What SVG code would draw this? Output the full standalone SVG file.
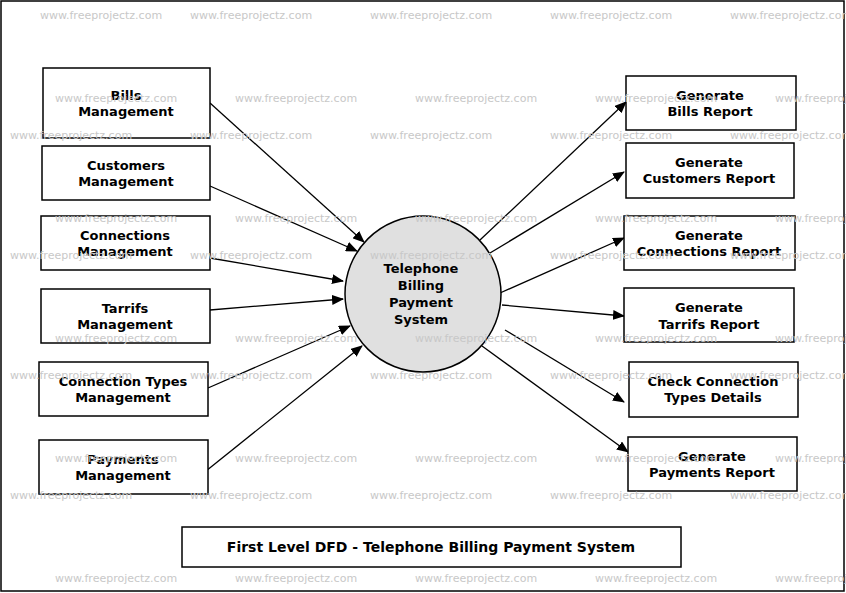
<svg xmlns="http://www.w3.org/2000/svg" width="846" height="593" viewBox="0 0 846 593">
<style>
.b{fill:#fff;stroke:#000;stroke-width:1.5}
.t{font-family:"DejaVu Sans",sans-serif;font-weight:bold;font-size:13px;text-anchor:middle}
.w{font-family:"DejaVu Sans",sans-serif;font-size:11px;fill:#c8c8c8}
.c line{stroke:#000;stroke-width:1.3;marker-end:url(#a)}
</style>
<defs><marker id="a" markerWidth="12" markerHeight="10" refX="11" refY="5" orient="auto" markerUnits="userSpaceOnUse"><path d="M0,0L12,5L0,10z"/></marker></defs>
<rect x="1" y="1" width="843" height="590" fill="#fff" stroke="#000" stroke-width="1.5"/>
<g class="c">
<line x1="210" y1="103" x2="364" y2="242"/>
<line x1="210" y1="186" x2="357" y2="251"/>
<line x1="210" y1="258" x2="343" y2="281"/>
<line x1="210" y1="310" x2="343" y2="299"/>
<line x1="208" y1="388" x2="350" y2="326"/>
<line x1="206" y1="471" x2="362" y2="346"/>
<line x1="480" y1="240" x2="626" y2="102"/>
<line x1="490" y1="253" x2="624" y2="172"/>
<line x1="500" y1="293" x2="624" y2="238"/>
<line x1="502" y1="305" x2="624" y2="316"/>
<line x1="505" y1="330" x2="624" y2="402"/>
<line x1="482" y1="346" x2="628" y2="452"/>
</g>
<g id="center"><circle cx="423" cy="294" r="78" fill="#e0e0e0" stroke="#000" stroke-width="1.5"/><text class="t" x="421" y="273">Telephone</text><text class="t" x="421" y="290">Billing</text><text class="t" x="421" y="307">Payment</text><text class="t" x="421" y="324">System</text></g>
<g id="l1"><rect class="b" x="43" y="68" width="167" height="70"/><text class="t" x="126" y="100">Bills</text><text class="t" x="126" y="116">Management</text></g>
<g id="l2"><rect class="b" x="42" y="146" width="168" height="54"/><text class="t" x="126" y="170">Customers</text><text class="t" x="126" y="186">Management</text></g>
<g id="l3"><rect class="b" x="41" y="216" width="169" height="54"/><text class="t" x="125" y="240">Connections</text><text class="t" x="125" y="256">Management</text></g>
<g id="l4"><rect class="b" x="41" y="289" width="169" height="54"/><text class="t" x="125" y="313">Tarrifs</text><text class="t" x="125" y="329">Management</text></g>
<g id="l5"><rect class="b" x="39" y="362" width="169" height="54"/><text class="t" x="123" y="386">Connection Types</text><text class="t" x="123" y="402">Management</text></g>
<g id="l6"><rect class="b" x="39" y="440" width="169" height="54"/><text class="t" x="123" y="464">Payments</text><text class="t" x="123" y="480">Management</text></g>
<g id="r1"><rect class="b" x="626" y="76" width="170" height="54"/><text class="t" x="710" y="100">Generate</text><text class="t" x="710" y="116">Bills Report</text></g>
<g id="r2"><rect class="b" x="626" y="143" width="168" height="55"/><text class="t" x="709" y="167">Generate</text><text class="t" x="709" y="183">Customers Report</text></g>
<g id="r3"><rect class="b" x="624" y="216" width="171" height="54"/><text class="t" x="709" y="240">Generate</text><text class="t" x="709" y="256">Connections Report</text></g>
<g id="r4"><rect class="b" x="624" y="288" width="170" height="54"/><text class="t" x="709" y="312">Generate</text><text class="t" x="709" y="329">Tarrifs Report</text></g>
<g id="r5"><rect class="b" x="629" y="362" width="169" height="55"/><text class="t" x="713" y="386">Check Connection</text><text class="t" x="713" y="402">Types Details</text></g>
<g id="r6"><rect class="b" x="628" y="437" width="169" height="54"/><text class="t" x="712" y="461">Generate</text><text class="t" x="712" y="477">Payments Report</text></g>
<g id="title"><rect class="b" x="182" y="527" width="499" height="40"/><text class="t" x="431" y="552" style="font-size:14px">First Level DFD - Telephone Billing Payment System</text></g>
<g id="wm" class="w">
<text x="40" y="19">www.freeprojectz.com</text><text x="190" y="19">www.freeprojectz.com</text><text x="370" y="19">www.freeprojectz.com</text><text x="550" y="19">www.freeprojectz.com</text><text x="730" y="19">www.freeprojectz.com</text>
<text x="55" y="102">www.freeprojectz.com</text><text x="235" y="102">www.freeprojectz.com</text><text x="415" y="102">www.freeprojectz.com</text><text x="595" y="102">www.freeprojectz.com</text><text x="775" y="102">www.freeprojectz.com</text>
<text x="10" y="139">www.freeprojectz.com</text><text x="190" y="139">www.freeprojectz.com</text><text x="370" y="139">www.freeprojectz.com</text><text x="550" y="139">www.freeprojectz.com</text><text x="730" y="139">www.freeprojectz.com</text>
<text x="55" y="222">www.freeprojectz.com</text><text x="235" y="222">www.freeprojectz.com</text><text x="415" y="222">www.freeprojectz.com</text><text x="595" y="222">www.freeprojectz.com</text><text x="775" y="222">www.freeprojectz.com</text>
<text x="10" y="259">www.freeprojectz.com</text><text x="190" y="259">www.freeprojectz.com</text><text x="370" y="259">www.freeprojectz.com</text><text x="550" y="259">www.freeprojectz.com</text><text x="730" y="259">www.freeprojectz.com</text>
<text x="55" y="342">www.freeprojectz.com</text><text x="235" y="342">www.freeprojectz.com</text><text x="415" y="342">www.freeprojectz.com</text><text x="595" y="342">www.freeprojectz.com</text><text x="775" y="342">www.freeprojectz.com</text>
<text x="10" y="379">www.freeprojectz.com</text><text x="190" y="379">www.freeprojectz.com</text><text x="370" y="379">www.freeprojectz.com</text><text x="550" y="379">www.freeprojectz.com</text><text x="730" y="379">www.freeprojectz.com</text>
<text x="55" y="462">www.freeprojectz.com</text><text x="235" y="462">www.freeprojectz.com</text><text x="415" y="462">www.freeprojectz.com</text><text x="595" y="462">www.freeprojectz.com</text><text x="775" y="462">www.freeprojectz.com</text>
<text x="10" y="499">www.freeprojectz.com</text><text x="190" y="499">www.freeprojectz.com</text><text x="370" y="499">www.freeprojectz.com</text><text x="550" y="499">www.freeprojectz.com</text><text x="730" y="499">www.freeprojectz.com</text>
<text x="55" y="582">www.freeprojectz.com</text><text x="235" y="582">www.freeprojectz.com</text><text x="415" y="582">www.freeprojectz.com</text><text x="595" y="582">www.freeprojectz.com</text><text x="775" y="582">www.freeprojectz.com</text>
</g>
</svg>
